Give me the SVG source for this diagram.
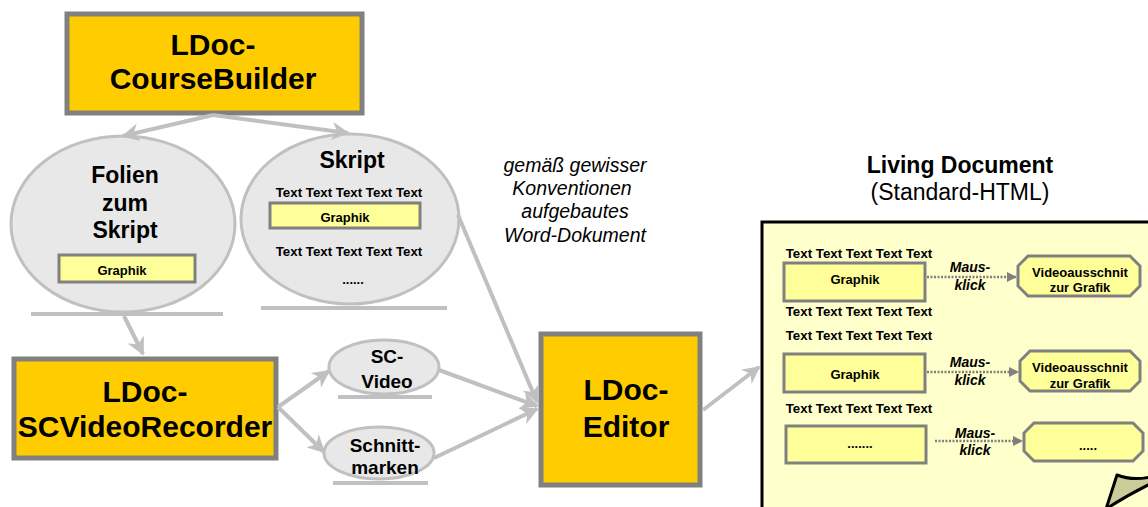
<svg xmlns="http://www.w3.org/2000/svg" width="1148" height="507" viewBox="0 0 1148 507">
<style>
text{font-family:"Liberation Sans",Arial,sans-serif;fill:#000;text-anchor:middle}
.b{font-weight:bold}
.big{font-size:30px;font-weight:bold}
.mid{font-size:23px;font-weight:bold}
.el{font-size:19px;font-weight:bold}
.sm{font-size:13.3px;font-weight:bold}
.xs{font-size:13px;font-weight:bold}
.it{font-size:19.5px;font-style:italic}
.mk{font-size:14px;font-style:italic;font-weight:bold}
.tool{fill:#FFCC00;stroke:#808080;stroke-width:5}
.ell{fill:#E8E8E8;stroke:#C0C0C0;stroke-width:3}
.ul{stroke:#C0C0C0;stroke-width:4}
.gr{fill:#FFFF99;stroke:#808080;stroke-width:3}
.con{stroke:#C0C0C0;stroke-width:4;fill:none;marker-end:url(#ah)}
.dot{stroke:#808080;stroke-width:2.5;stroke-dasharray:2 1.5;fill:none;marker-end:url(#dh)}
</style>
<defs>
<marker id="ah" viewBox="0 0 10 10" refX="9" refY="5" markerWidth="4.5" markerHeight="4.5" orient="auto" markerUnits="strokeWidth">
<path d="M0,0 L10,5 L0,10 L3,5 z" fill="#C0C0C0"/>
</marker>
<marker id="dh" viewBox="0 0 10 10" refX="9" refY="5" markerWidth="4" markerHeight="4" orient="auto" markerUnits="strokeWidth">
<path d="M0,0 L10,5 L0,10 z" fill="#808080"/>
</marker>
</defs>

<g id="living-document">
<rect x="762" y="222" width="400" height="300" fill="#FFFFCC" stroke="#000" stroke-width="3"/>
<path d="M1106,509 L1117,475 Q1132,481 1150,477 L1150,484 Q1126,496 1106,509 z" fill="#CCCC99" stroke="#000" stroke-width="3" stroke-linejoin="round"/>
<text class="b" x="960" y="173" font-size="23">Living Document</text>
<text x="960" y="200" font-size="23">(Standard-HTML)</text>
</g>

<g id="coursebuilder">
<rect class="tool" x="67" y="14" width="295" height="99"/>
<text class="big" x="213" y="55">LDoc-</text>
<text class="big" x="213" y="89">CourseBuilder</text>
</g>

<g id="folien">
<ellipse class="ell" cx="123" cy="224" rx="112" ry="88"/>
<line class="ul" x1="31" y1="314" x2="223" y2="314"/>
<text class="mid" x="125" y="183">Folien</text>
<text class="mid" x="125" y="211">zum</text>
<text class="mid" x="125" y="238">Skript</text>
<rect class="gr" x="59" y="255" width="136" height="27"/>
<text class="xs" x="122" y="275">Graphik</text>
</g>

<g id="skript">
<ellipse class="ell" cx="350" cy="219" rx="109" ry="85"/>
<line class="ul" x1="261" y1="308" x2="447" y2="308"/>
<text class="mid" x="352" y="168">Skript</text>
<text class="sm" x="349" y="197">Text Text Text Text Text</text>
<rect class="gr" x="270" y="203" width="150" height="25"/>
<text class="xs" x="345" y="222">Graphik</text>
<text class="sm" x="349" y="256">Text Text Text Text Text</text>
<text class="xs" x="353" y="284">......</text>
</g>

<g id="scvideorecorder">
<rect class="tool" x="14" y="359" width="262" height="99"/>
<text class="big" x="145" y="402">LDoc-</text>
<text class="big" x="145" y="437">SCVideoRecorder</text>
</g>

<g id="scvideo">
<ellipse class="ell" cx="384" cy="367" rx="55" ry="27"/>
<line class="ul" x1="338" y1="397" x2="432" y2="397"/>
<text class="el" x="387" y="363">SC-</text>
<text class="el" x="387" y="388">Video</text>
</g>

<g id="schnittmarken">
<ellipse class="ell" cx="379" cy="453" rx="55" ry="26"/>
<line class="ul" x1="333" y1="483" x2="428" y2="483"/>
<text class="el" x="385" y="452">Schnitt-</text>
<text class="el" x="385" y="474">marken</text>
</g>

<g id="editor">
<rect class="tool" x="541" y="334" width="159" height="151"/>
<text class="big" x="626" y="400">LDoc-</text>
<text class="big" x="626" y="437">Editor</text>
</g>

<g id="note">
<text class="it" x="575" y="172">gemäß gewisser</text>
<text class="it" x="572" y="195">Konventionen</text>
<text class="it" x="575" y="218">aufgebautes</text>
<text class="it" x="575" y="242">Word-Dokument</text>
</g>

<g id="row1">
<text class="sm" x="859" y="258">Text Text Text Text Text</text>
<rect class="gr" x="784" y="263" width="141" height="38"/>
<text class="xs" x="855" y="284">Graphik</text>
<text class="sm" x="859" y="316">Text Text Text Text Text</text>
<text class="mk" x="970" y="272">Maus-</text>
<text class="mk" x="970" y="290">klick</text>
<polygon class="gr" points="1028,256 1130,256 1140,266 1140,286 1130,296 1028,296 1018,286 1018,266"/>
<text class="xs" x="1080" y="277">Videoausschnit</text>
<text class="xs" x="1080" y="292">zur Grafik</text>
</g>

<g id="row2">
<text class="sm" x="859" y="340">Text Text Text Text Text</text>
<rect class="gr" x="784" y="354" width="141" height="38"/>
<text class="xs" x="855" y="379">Graphik</text>
<text class="mk" x="970" y="367">Maus-</text>
<text class="mk" x="970" y="385">klick</text>
<polygon class="gr" points="1030,351 1130,351 1140,361 1140,381 1130,391 1030,391 1020,381 1020,361"/>
<text class="xs" x="1080" y="372">Videoausschnit</text>
<text class="xs" x="1080" y="388">zur Grafik</text>
</g>

<g id="row3">
<text class="sm" x="859" y="413">Text Text Text Text Text</text>
<rect class="gr" x="786" y="426" width="140" height="37"/>
<text class="xs" x="860" y="448">.......</text>
<text class="mk" x="975" y="438">Maus-</text>
<text class="mk" x="975" y="455">klick</text>
<polygon class="gr" points="1034,423 1133,423 1143,433 1143,451 1133,461 1034,461 1024,451 1024,433"/>
<text class="xs" x="1088" y="450">.....</text>
</g>

<g id="connectors">
<line class="con" x1="213" y1="115" x2="123" y2="136"/>
<line class="con" x1="213" y1="115" x2="348" y2="133"/>
<line class="con" x1="124" y1="316" x2="143" y2="354"/>
<line class="con" x1="278" y1="407" x2="329" y2="371"/>
<line class="con" x1="278" y1="407" x2="324" y2="452"/>
<line class="con" x1="458" y1="215" x2="537" y2="402"/>
<line class="con" x1="439" y1="370" x2="537" y2="406"/>
<line class="con" x1="434" y1="458" x2="537" y2="409"/>
<line class="con" x1="703" y1="410" x2="759" y2="367"/>
<line class="dot" x1="927" y1="277" x2="1016" y2="277"/>
<line class="dot" x1="927" y1="372" x2="1018" y2="372"/>
<line class="dot" x1="935" y1="441" x2="1022" y2="441"/>
</g>
</svg>
